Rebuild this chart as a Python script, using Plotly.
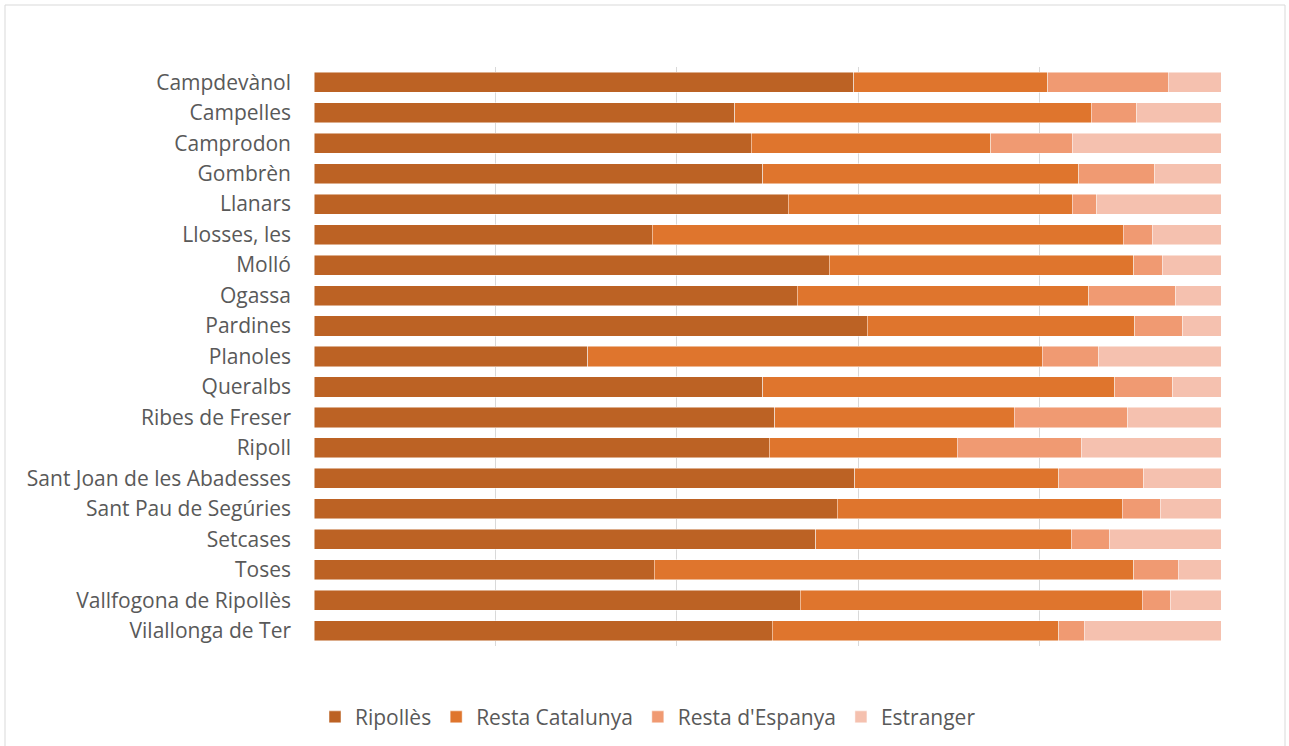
import plotly.graph_objects as go

municipis = ["Campdevànol", "Campelles", "Camprodon", "Gombrèn", "Llanars", "Llosses, les",
             "Molló", "Ogassa", "Pardines", "Planoles", "Queralbs", "Ribes de Freser", "Ripoll",
             "Sant Joan de les Abadesses", "Sant Pau de Segúries", "Setcases", "Toses",
             "Vallfogona de Ripollès", "Vilallonga de Ter"]

ripolles = [59.5, 46.4, 48.2, 49.5, 52.3, 37.3, 56.8, 53.3, 61.0, 30.2, 49.5, 50.8, 50.2,
            59.6, 57.7, 55.3, 37.5, 53.6, 50.5]
resta_catalunya = [21.4, 39.3, 26.4, 34.8, 31.3, 51.9, 33.6, 32.1, 29.5, 50.1, 38.8, 26.4, 20.7,
                   22.5, 31.4, 28.2, 52.9, 37.7, 31.6]
resta_espanya = [13.3, 5.0, 9.0, 8.4, 2.7, 3.2, 3.1, 9.6, 5.3, 6.2, 6.4, 12.5, 13.7,
                 9.4, 4.2, 4.2, 4.9, 3.1, 2.8]
estranger = [5.8, 9.3, 16.4, 7.3, 13.7, 7.6, 6.5, 5.0, 4.2, 13.5, 5.3, 10.3, 15.4,
             8.5, 6.7, 12.3, 4.7, 5.6, 15.1]

series = [
    ("Ripollès", ripolles, "#BC6224"),
    ("Resta Catalunya", resta_catalunya, "#DF752D"),
    ("Resta d'Espanya", resta_espanya, "#F09A72"),
    ("Estranger", estranger, "#F5C1AF"),
]

FONT = "Open Sans, Lato, Liberation Sans, Arial, sans-serif"
FS = 21

fig = go.Figure()
for name, vals, col in series:
    fig.add_trace(go.Bar(
        y=municipis, x=vals, name=name, orientation="h",
        marker=dict(color=col, line=dict(color="rgba(255,255,255,0.6)", width=0.8)),
        hoverinfo="x+y+name",
    ))

fig.update_layout(
    barmode="stack",
    barnorm="percent",
    bargap=0.34,
    width=1289, height=746,
    margin=dict(l=314, r=68, t=67, b=100, autoexpand=False),
    paper_bgcolor="white", plot_bgcolor="white",
    font=dict(family=FONT, size=FS, color="#595959"),
    xaxis=dict(range=[0, 100], dtick=20, showgrid=True, gridcolor="#D9D9D9", gridwidth=1,
               showticklabels=False, zeroline=False, showline=False, ticks=""),
    yaxis=dict(autorange="reversed", showgrid=False, ticks="", showline=False,
               ticklabelstandoff=22, tickfont=dict(family=FONT, size=FS, color="#595959")),
    legend=dict(orientation="h", x=(648 - 314) / 907, xanchor="center", y=-0.123, yanchor="middle",
                traceorder="normal", font=dict(family=FONT, size=FS, color="#595959"),
                itemwidth=30, bgcolor="rgba(0,0,0,0)"),
    shapes=[dict(type="rect", xref="paper", yref="paper",
                 x0=(5 - 314) / 907, x1=(1285 - 314) / 907,
                 y0=(646 - 760) / 579, y1=1 + (67 - 5) / 579,
                 line=dict(color="#D9D9D9", width=1), fillcolor="rgba(0,0,0,0)", layer="below")],
)

fig.write_html("out.html", config={"displayModeBar": False},
               post_script="document.body.style.margin='0';document.body.style.padding='0';")
